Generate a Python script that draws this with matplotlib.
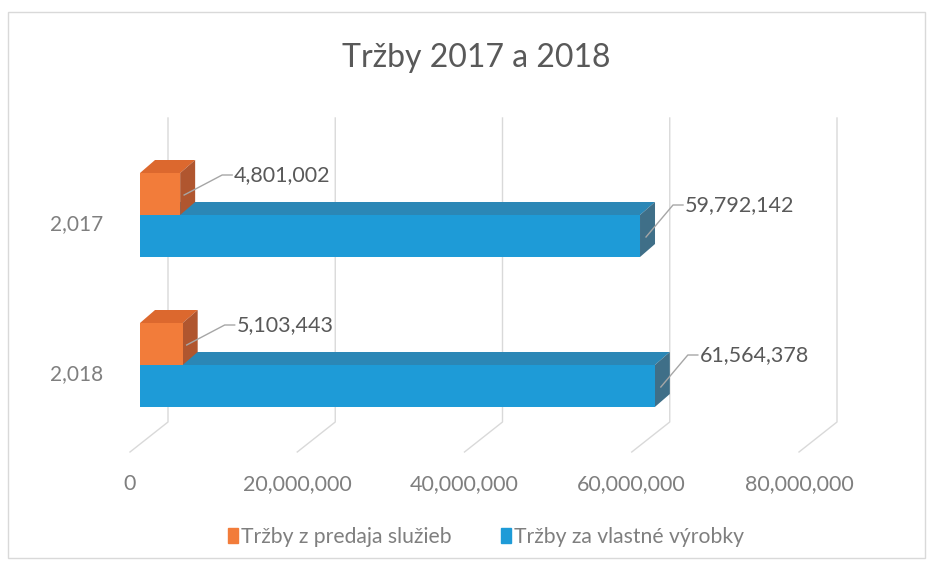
import matplotlib
matplotlib.use('Agg')
import matplotlib.pyplot as plt
from matplotlib.patches import Polygon, Rectangle, Patch

plt.rcParams['font.family'] = ['Lato', 'DejaVu Sans']

# Data
years = ['2,017', '2,018']
sluzby = [4801002, 5103443]       # Tržby z predaja služieb
vyrobky = [59792142, 61564378]    # Tržby za vlastné výrobky
ticks = [0, 20000000, 40000000, 60000000, 80000000]
tick_labels = ['0', '20,000,000', '40,000,000', '60,000,000', '80,000,000']

orange = ('#f27c3a', '#dc682e', '#b0562f')
blue = ('#1e9bd7', '#2b87b6', '#3f6f88')
label_col = '#595959'
tick_col = '#7f7f7f'
grid_col = '#d9d9d9'

W, H = 935, 569
fig = plt.figure(figsize=(W / 100, H / 100), dpi=100)
ax = fig.add_axes([140 / W, 1 - 452 / H, (809 - 140) / W, (452 - 118) / H])
ax.set_xlim(0, 80000000)
ax.set_ylim(1 + 87 / 150, -97 / 150)
ax.axis('off')

# pixel -> data helpers (axes are fixed in pixels)
sx = 80000000 / (809 - 140)
def px(d):
    return d * sx
def py(d):
    return d / 150.0

h = 0.28
ddx, ddy = px(15), py(13)


def box(x1, ytop, ybot, cols):
    front, top, side = cols
    ax.add_patch(Polygon([(0, ytop), (x1, ytop), (x1 + ddx, ytop - ddy), (ddx, ytop - ddy)],
                         closed=True, fc=top, ec='none', zorder=2))
    ax.add_patch(Polygon([(x1, ytop), (x1 + ddx, ytop - ddy), (x1 + ddx, ybot - ddy), (x1, ybot)],
                         closed=True, fc=side, ec='none', zorder=2))
    ax.barh((ytop + ybot) / 2, x1, height=ybot - ytop, left=0, color=front, zorder=2)


def value_label(x1, ytop, val, up):
    if up:
        pts = [(x1 + px(6), ytop + py(22)), (x1 + px(33), ytop - py(10)), (x1 + px(43), ytop - py(10))]
    else:
        pts = [(x1 + px(4), ytop + py(22)), (x1 + px(42), ytop + py(2)), (x1 + px(52), ytop + py(2))]
    ax.plot([p[0] for p in pts], [p[1] for p in pts], color='#a6a6a6', lw=1, zorder=3,
            clip_on=False)
    ax.text(pts[-1][0] + px(2), pts[-1][1], f'{val:,}', ha='left', va='center',
            fontsize=15.5, color=label_col, clip_on=False)


# back wall / floor gridlines
y_floor_back = 1 + py(57)
y_floor_front = 1 + py(87)
for t in ticks:
    xb = t + px(28)
    xf = t - px(10)
    ax.plot([xb, xb, xf], [-97 / 150, y_floor_back, y_floor_front], color=grid_col, lw=1,
            zorder=0, clip_on=False)

for i, year in enumerate(years):
    box(vyrobky[i], i, i + h, blue)
    box(sluzby[i], i - h, i, orange)
    value_label(sluzby[i], i - h, sluzby[i], False)
    value_label(vyrobky[i], i, vyrobky[i], True)
    ax.text(px(-63), i + 0.06, year, ha='center', va='center', fontsize=15, color=tick_col,
            clip_on=False)

for t, lab in zip(ticks, tick_labels):
    ax.text(t - px(10), 1 + py(119), lab, ha='center', va='center', fontsize=15.5,
            color=tick_col, clip_on=False)

fig.text(476 / W, 1 - 58 / H, 'Tržby 2017 a 2018', ha='center', va='center', fontsize=23,
         color=label_col)

handles = [Patch(color=orange[0], label='Tržby z predaja služieb'),
           Patch(color=blue[0], label='Tržby za vlastné výrobky')]
fig.legend(handles=handles, loc='center', bbox_to_anchor=(486 / W, 1 - 537 / H), ncol=2,
           frameon=False, fontsize=15.2, labelcolor=tick_col, handlelength=0.5,
           handleheight=0.7, handletextpad=0.15, columnspacing=2.3)

fig.patches.append(Rectangle((8 / W, 1 - 558 / H), 917 / W, 546 / H, transform=fig.transFigure,
                             fill=False, ec='#d9d9d9', lw=1))

fig.savefig('out.png', dpi=100, facecolor='white')
